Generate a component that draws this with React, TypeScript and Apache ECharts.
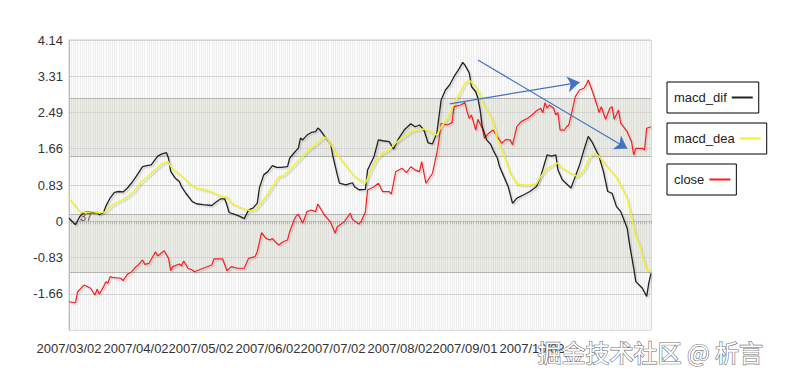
import { useEffect, useRef } from 'react';
import * as echarts from 'echarts';

// calendar days from 2007/03/02
const START_UTC = Date.UTC(2007, 2, 2);
const DAY_COUNT = 270;
const categories: string[] = [];
for (let i = 0; i < DAY_COUNT; i++) {
  const d = new Date(START_UTC + i * 86400000);
  categories.push(
    `${d.getUTCFullYear()}/${String(d.getUTCMonth() + 1).padStart(2, '0')}/${String(d.getUTCDate()).padStart(2, '0')}`
  );
}

const xLabelDates = ['2007/03/02', '2007/04/02', '2007/05/02', '2007/06/02', '2007/07/02', '2007/08/02', '2007/09/01', '2007/10/02'];

// MACD axis
const macdStep = 0.8286;
const macdMin = -3 * macdStep;
const macdMax = 5 * macdStep;

// day offsets (from 2007/03/02) and values
const difDays = [0, 3, 5, 7, 10, 11, 13, 14, 16, 17, 19, 21, 23, 25, 27, 29, 31, 34, 36, 38, 41, 43, 45, 46, 47, 49, 51, 52, 54, 57, 59, 62, 66, 68, 70, 72, 73, 74, 77, 79, 81, 83, 85, 87, 88, 90, 92, 94, 96, 98, 101, 102, 104, 106, 107, 108, 110, 112, 114, 115, 116, 118, 121, 122, 124, 125, 128, 129, 131, 132, 134, 137, 138, 141, 143, 145, 148, 150, 152, 155, 158, 160, 162, 164, 166, 168, 170, 172, 174, 176, 178, 180, 182, 183, 185, 186, 188, 189, 190, 191, 193, 195, 196, 198, 199, 201, 203, 205, 207, 210, 213, 216, 218, 221, 223, 225, 226, 228, 232, 234, 236, 238, 240, 242, 245, 247, 249, 251, 253, 255, 258, 259, 261, 262, 265, 267, 268, 269];
const difValues = [0.07, -0.08, 0.11, 0.2, 0.22, 0.19, 0.2, 0.15, 0.2, 0.34, 0.53, 0.66, 0.68, 0.67, 0.76, 0.88, 1.02, 1.25, 1.27, 1.29, 1.49, 1.54, 1.57, 1.44, 1.14, 0.99, 0.91, 0.79, 0.64, 0.45, 0.4, 0.38, 0.36, 0.44, 0.51, 0.51, 0.37, 0.2, 0.15, 0.11, 0.06, 0.26, 0.3, 0.41, 0.76, 1.06, 1.14, 1.27, 1.23, 1.23, 1.25, 1.44, 1.56, 1.67, 1.9, 1.86, 1.97, 2.03, 2.05, 2.13, 2.09, 1.95, 1.75, 1.48, 1.06, 0.87, 0.83, 0.85, 0.88, 0.79, 0.72, 0.73, 1.17, 1.48, 1.86, 1.84, 1.82, 1.65, 1.86, 2.09, 2.23, 2.16, 2.2, 2.09, 1.79, 1.77, 2.01, 2.77, 3.0, 3.12, 3.31, 3.46, 3.63, 3.57, 3.39, 3.08, 2.96, 2.81, 2.55, 2.16, 1.86, 1.75, 1.63, 1.44, 1.25, 1.02, 0.79, 0.41, 0.53, 0.6, 0.68, 0.79, 1.02, 1.52, 1.49, 1.52, 1.17, 0.95, 0.76, 1.02, 1.29, 1.63, 1.94, 1.79, 1.48, 1.14, 0.68, 0.64, 0.34, 0.22, -0.16, -0.5, -1.07, -1.38, -1.53, -1.72, -1.41, -1.19];

const deaDays = [0, 3, 5, 8, 11, 14, 17, 20, 24, 27, 30, 33, 36, 39, 42, 44, 46, 47, 50, 53, 56, 59, 62, 65, 68, 71, 73, 75, 78, 81, 84, 86, 88, 91, 94, 97, 99, 102, 105, 108, 111, 114, 118, 119, 121, 124, 127, 130, 132, 134, 137, 139, 142, 145, 148, 151, 155, 158, 161, 164, 167, 170, 172, 175, 178, 181, 183, 185, 188, 190, 192, 195, 197, 198, 201, 204, 207, 210, 213, 216, 218, 221, 224, 226, 228, 232, 235, 238, 241, 243, 245, 248, 253, 258, 260, 262, 264, 265, 267, 269];
const deaValues = [0.51, 0.34, 0.22, 0.2, 0.22, 0.19, 0.22, 0.37, 0.47, 0.56, 0.68, 0.88, 1.0, 1.14, 1.27, 1.34, 1.36, 1.25, 1.11, 0.99, 0.85, 0.76, 0.73, 0.69, 0.62, 0.56, 0.56, 0.41, 0.34, 0.28, 0.24, 0.26, 0.37, 0.56, 0.79, 1.02, 1.04, 1.17, 1.33, 1.48, 1.65, 1.75, 1.92, 1.9, 1.75, 1.52, 1.33, 1.14, 1.02, 0.95, 0.87, 1.1, 1.4, 1.56, 1.63, 1.79, 1.94, 2.05, 2.09, 2.11, 2.05, 1.97, 2.16, 2.36, 2.7, 2.96, 3.16, 3.22, 3.08, 2.89, 2.62, 2.39, 2.09, 1.86, 1.52, 1.1, 0.85, 0.83, 0.83, 0.85, 1.02, 1.21, 1.29, 1.33, 1.21, 1.1, 1.02, 1.17, 1.49, 1.56, 1.48, 1.29, 1.01, 0.53, 0.08, -0.35, -0.58, -0.81, -1.11, -1.15];

const closeDays = [0, 3, 4, 7, 10, 11, 12, 13, 14, 16, 17, 18, 19, 20, 24, 25, 27, 29, 31, 32, 34, 35, 37, 40, 41, 44, 46, 47, 48, 51, 52, 53, 55, 57, 58, 62, 66, 67, 71, 73, 75, 78, 81, 83, 86, 87, 89, 91, 93, 94, 96, 97, 99, 101, 102, 104, 105, 106, 108, 110, 112, 114, 115, 118, 120, 121, 123, 124, 127, 130, 131, 134, 135, 137, 138, 141, 143, 145, 148, 149, 151, 154, 156, 158, 160, 162, 163, 165, 168, 170, 171, 172, 175, 177, 178, 181, 183, 184, 185, 186, 188, 189, 191, 192, 194, 196, 198, 200, 202, 204, 205, 207, 209, 212, 214, 216, 218, 219, 220, 221, 222, 224, 225, 226, 227, 229, 230, 231, 233, 234, 236, 238, 239, 240, 242, 244, 245, 246, 248, 250, 251, 252, 254, 255, 258, 260, 261, 262, 265, 266, 267, 269];
const closeValues = [9.95, 9.88, 10.64, 11.1, 10.88, 10.64, 10.41, 10.81, 10.46, 10.99, 11.33, 11.22, 11.68, 11.63, 11.57, 11.4, 11.84, 12.02, 12.37, 12.48, 12.83, 12.53, 12.6, 13.4, 13.1, 13.47, 12.94, 12.09, 12.37, 12.55, 12.41, 12.76, 12.26, 12.14, 12.02, 12.26, 12.48, 12.9, 12.9, 12.09, 12.37, 12.26, 12.26, 12.94, 13.06, 13.4, 14.71, 14.32, 14.21, 14.32, 13.98, 13.86, 14.09, 14.21, 14.78, 15.59, 15.86, 15.98, 15.36, 16.16, 16.28, 16.16, 16.69, 15.93, 15.59, 15.4, 14.67, 15.12, 15.43, 16.05, 15.63, 15.31, 15.47, 16.16, 17.66, 17.88, 18.12, 17.54, 17.54, 17.38, 18.92, 19.15, 18.85, 19.26, 19.03, 18.92, 19.61, 18.12, 18.81, 20.19, 21.1, 22.26, 22.14, 22.3, 23.4, 23.52, 23.68, 23.06, 22.6, 22.83, 21.79, 22.53, 21.91, 21.22, 21.57, 21.79, 21.33, 20.88, 21.15, 21.1, 20.76, 22.02, 22.37, 22.6, 22.83, 23.1, 23.29, 22.99, 23.68, 23.29, 23.52, 23.29, 22.83, 22.99, 21.79, 21.79, 22.02, 22.14, 23.4, 24.09, 24.55, 24.67, 24.9, 25.24, 24.43, 23.52, 22.99, 23.4, 22.53, 23.29, 23.4, 22.53, 23.17, 22.26, 21.68, 20.99, 20.07, 20.53, 20.53, 20.41, 21.91, 22.02];

// annotation arrows on the close series: [fromDay, fromClose, toDay, toClose]
const arrows = [
  [176, 23.6, 236, 25.08],
  [189, 26.62, 258, 20.51],
];

const legendNames = ['macd_dif', 'macd_dea', 'close'];

const FONT = '"Liberation Sans", Arial, Helvetica, sans-serif';

export default function App() {
  const ref = useRef<HTMLDivElement>(null);
  useEffect(() => {
    if (!ref.current) return;
    const chart = echarts.init(ref.current, null, { renderer: 'svg' });
    const labelSet = new Set(xLabelDates);
    const pair = (days: number[], vals: number[]) => days.map((d, i) => [d, vals[i]]);
    const legendCommon = {
      orient: 'horizontal',
      align: 'right',
      icon: 'rect',
      itemWidth: 21,
      itemHeight: 2,
      borderColor: '#000',
      borderWidth: 1,
      borderRadius: 0,
      padding: [9, 6, 9, 7],
      selectedMode: false,
      textStyle: { fontSize: 13, color: '#222', fontFamily: FONT },
    };
    chart.setOption({
      animation: false,
      backgroundColor: '#ffffff',
      textStyle: { fontFamily: FONT },
      grid: { left: 69, top: 40, width: 582, height: 290, show: true, borderColor: '#c8c8c8', borderWidth: 1, backgroundColor: 'transparent' },
      legend: [
        { ...legendCommon, data: [legendNames[0]], left: 667, top: 82 },
        { ...legendCommon, data: [legendNames[1]], left: 667, top: 123 },
        { ...legendCommon, data: [legendNames[2]], left: 667, top: 164 },
      ],
      xAxis: {
        type: 'category',
        data: categories,
        boundaryGap: false,
        z: 1,
        axisLine: { show: true, lineStyle: { color: '#bdbdbd' } },
        axisTick: { show: true, interval: 0, length: 3, lineStyle: { color: '#b5b5b5' } },
        axisLabel: {
          interval: (_i: number, v: string) => labelSet.has(v),
          margin: 12,
          fontSize: 13,
          color: '#333',
          fontFamily: FONT,
        },
        splitLine: { show: true, interval: 0, lineStyle: { color: 'rgba(0,0,0,0.05)', width: 1 } },
      },
      yAxis: [
        {
          type: 'value',
          min: macdMin,
          max: macdMax,
          interval: macdStep,
          z: 1,
          axisLine: { show: true, lineStyle: { color: '#bdbdbd' } },
          axisTick: { show: false },
          axisLabel: {
            showMinLabel: false,
            margin: 6,
            fontSize: 13,
            color: '#333',
            fontFamily: FONT,
            padding: [5, 0, 0, 0],
            formatter: (v: number) => (Math.abs(v) < 1e-6 ? '0' : v.toFixed(2)),
          },
          splitLine: { show: true, lineStyle: { color: '#d9d9d9' } },
        },
        {
          type: 'value',
          min: 8,
          max: 28,
          interval: 4,
          z: 0,
          axisLine: { show: false },
          axisTick: { show: false },
          axisLabel: { show: false },
          splitLine: { show: true, lineStyle: { color: '#b8b8b8' } },
          splitArea: { show: true, areaStyle: { color: ['#fbfbfb', '#ecece7'] } },
        },
      ],
      series: [
        {
          name: 'close',
          type: 'line',
          yAxisIndex: 1,
          data: pair(closeDays, closeValues),
          symbol: 'none',
          z: 3,
          itemStyle: { color: '#f02020' },
          lineStyle: { color: '#f02020', width: 1.2, shadowColor: 'rgba(0,0,0,0.15)', shadowOffsetX: 1.5, shadowOffsetY: 1.5 },
          markLine: {
            silent: true,
            symbol: ['none', 'arrow'],
            symbolSize: 12,
            label: { show: false },
            lineStyle: { color: '#4472c4', width: 1.2, type: 'solid' },
            data: arrows.map((a) => [{ coord: [a[0], a[1]] }, { coord: [a[2], a[3]] }]),
          },
        },
        {
          name: 'macd_dif',
          type: 'line',
          data: pair(difDays, difValues),
          symbol: 'none',
          z: 4,
          itemStyle: { color: '#222222' },
          lineStyle: { color: '#222222', width: 1.3, shadowColor: 'rgba(0,0,0,0.15)', shadowOffsetX: 1.5, shadowOffsetY: 1.5 },
        },
        {
          name: 'macd_dea',
          type: 'line',
          data: pair(deaDays, deaValues),
          symbol: 'none',
          z: 4,
          itemStyle: { color: '#f0f030' },
          lineStyle: { color: '#f0f030', width: 1.5, shadowColor: 'rgba(0,0,0,0.15)', shadowOffsetX: 1.5, shadowOffsetY: 1.5 },
        },
      ],
      graphic: [
        { type: 'text', left: 80, top: 211, z: 5, style: { text: '37', font: `11px ${FONT}`, fill: '#555' } },
        {
          type: 'text',
          left: 537,
          top: 339,
          z: 100,
          style: { text: '掘金技术社区 @ 析言', font: '24px "Noto Sans CJK SC"', fill: '#ffffff', stroke: '#6e6e6e', lineWidth: 1.2 },
        },
      ],
    });
    return () => chart.dispose();
  }, []);
  return <div ref={ref} style={{ position: 'absolute', left: 0, top: 0, width: 786, height: 378 }} />;
}
